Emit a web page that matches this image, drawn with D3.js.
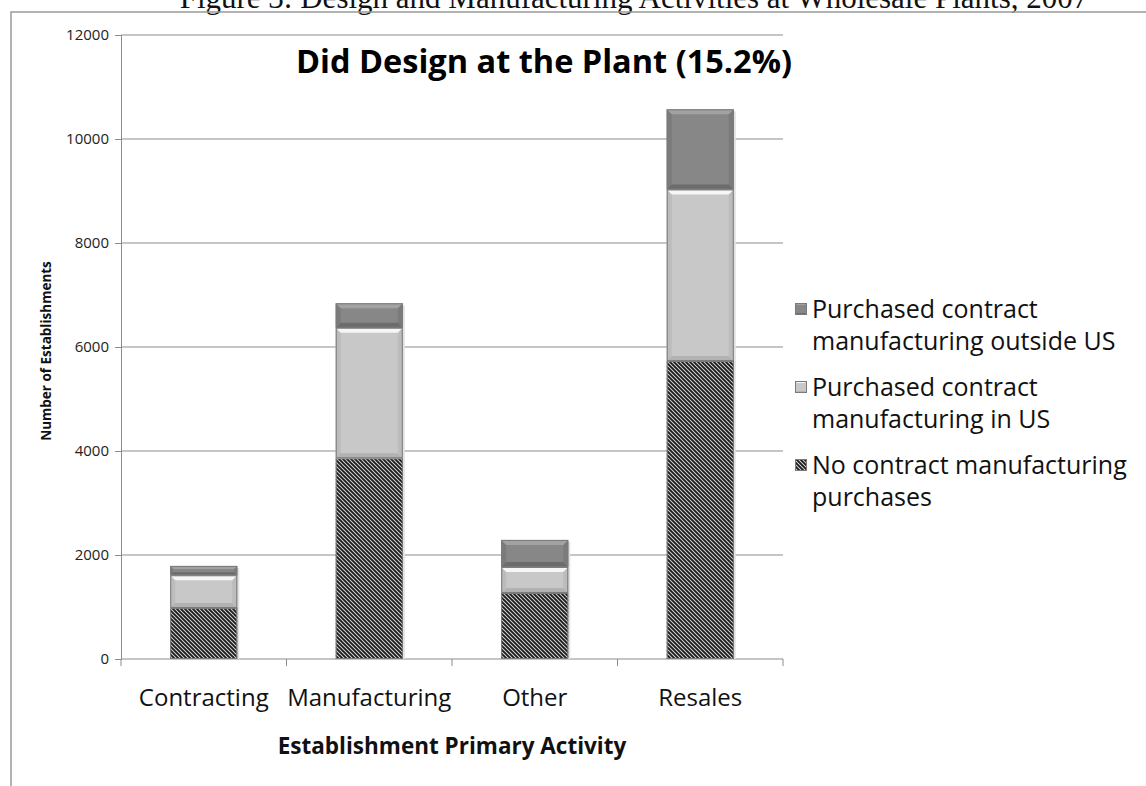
<!DOCTYPE html>
<html>
<head>
<meta charset="utf-8">
<script src="https://cdn.jsdelivr.net/npm/d3@7"></script>
<style>
  body { margin: 0; background: #fff; }
  svg { display: block; }
</style>
</head>
<body>
<svg id="chart"></svg>
<script>
var W = 1146, H = 786;

// data
var categories = ["Contracting", "Manufacturing", "Other", "Resales"];
var noContract = [980, 3860, 1270, 5730];
var inUS = [630, 2510, 500, 3300];
var outsideUS = [180, 470, 520, 1540];
var yTicks = [0, 2000, 4000, 6000, 8000, 10000, 12000];

var plot = { left: 121, right: 783, top: 35, bottom: 659 };

var svg = d3.select("#chart").attr("width", W).attr("height", H);
var defs = svg.append("defs");

// diagonal hatch like the original fill
var pat = defs.append("pattern")
  .attr("id", "hatch")
  .attr("patternUnits", "userSpaceOnUse")
  .attr("width", 4).attr("height", 4);
pat.append("rect").attr("width", 4).attr("height", 4).attr("fill", "#d2d2d2");
pat.append("path")
  .attr("d", "M-1,-1 L5,5 M-1,3 L1,5 M3,-1 L5,1")
  .attr("stroke", "#1a1a1a").attr("stroke-width", 1.8);

// caption above the frame (cut off at the top, as in the source)
svg.append("text")
  .attr("x", 634).attr("y", 8)
  .attr("text-anchor", "middle")
  .style("font-family", "'Liberation Serif', serif")
  .style("font-size", "31px")
  .attr("fill", "#111")
  .text("Figure 3: Design and Manufacturing Activities at Wholesale Plants, 2007");

// chart frame
svg.append("rect")
  .attr("x", 11).attr("y", 12)
  .attr("width", W + 20).attr("height", H + 20)
  .attr("fill", "none").attr("stroke", "#9a9a9a").attr("stroke-width", 1.5);

var x = d3.scaleBand().domain(categories)
  .range([plot.left, plot.right]).paddingInner(0.595).paddingOuter(0.2975);
var y = d3.scaleLinear().domain([0, 12000]).range([plot.bottom, plot.top]);

// gridlines
svg.append("g").selectAll("line").data(yTicks.filter(function(d) { return d > 0; }))
  .enter().append("line")
  .attr("x1", plot.left).attr("x2", plot.right)
  .attr("y1", function(d) { return y(d); }).attr("y2", function(d) { return y(d); })
  .attr("stroke", "#8c8c8c").attr("stroke-width", 1);

// y axis
var yAxis = svg.append("g")
  .attr("transform", "translate(" + plot.left + ",0)")
  .call(d3.axisLeft(y).tickValues(yTicks).tickSize(6).tickPadding(6).tickFormat(d3.format("d")));
yAxis.selectAll("path, line").attr("stroke", "#8c8c8c");
yAxis.selectAll("text")
  .style("font-family", "'Open Sans', sans-serif")
  .style("font-size", "15px").attr("fill", "#222");

// x axis
var xPos = d3.scaleLinear().domain([0, categories.length]).range([plot.left, plot.right]);
var xAxis = svg.append("g")
  .attr("transform", "translate(0," + plot.bottom + ")");
xAxis.append("line").attr("x1", plot.left).attr("x2", plot.right)
  .attr("stroke", "#8c8c8c");
xAxis.selectAll("line.tick").data(d3.range(categories.length + 1)).enter()
  .append("line").attr("class", "tick")
  .attr("x1", function(d) { return xPos(d); }).attr("x2", function(d) { return xPos(d); })
  .attr("y1", 0).attr("y2", 7).attr("stroke", "#8c8c8c");
xAxis.selectAll("text").data(categories).enter().append("text")
  .attr("x", function(d) { return x(d) + x.bandwidth() / 2; })
  .attr("y", 47)
  .attr("text-anchor", "middle")
  .style("font-family", "'Open Sans', sans-serif")
  .style("font-size", "24px").attr("fill", "#111")
  .text(function(d) { return d; });

// axis titles
svg.append("text")
  .attr("x", (plot.left + plot.right) / 2).attr("y", 754)
  .attr("text-anchor", "middle")
  .style("font-family", "'Open Sans', sans-serif")
  .style("font-size", "22.5px").style("font-weight", "bold").attr("fill", "#111")
  .text("Establishment Primary Activity");

svg.append("text")
  .attr("transform", "translate(51," + 351 + ") rotate(-90)")
  .attr("text-anchor", "middle")
  .style("font-family", "'Open Sans', sans-serif")
  .style("font-size", "13.5px").style("font-weight", "bold").attr("fill", "#111")
  .text("Number of Establishments");

// chart title
svg.append("text")
  .attr("x", 544).attr("y", 73)
  .attr("text-anchor", "middle")
  .style("font-family", "'Open Sans', sans-serif")
  .style("font-size", "32.5px").style("font-weight", "bold").attr("fill", "#000")
  .text("Did Design at the Plant (15.2%)");

// stacked bars
var rows = categories.map(function(c, i) {
  return { cat: c, a: noContract[i], b: inUS[i], c: outsideUS[i] };
});
var stack = d3.stack().keys(["a", "b", "c"])(rows);

var styles = {
  a: { fill: "url(#hatch)", top: null, bottom: null, side: null },
  b: { fill: "#c8c8c8", top: "#f6f6f6", bottom: "#b2b2b2", side: "#bcbcbc" },
  c: { fill: "#878787", top: "#a2a2a2", bottom: "#6c6c6c", side: "#7b7b7b" }
};

function bevel(g, x0, y0, w, h, s) {
  var b = Math.min(5, h / 3);
  if (s.side) {
    g.append("path")
      .attr("d", "M" + x0 + "," + y0 + " L" + (x0 + b) + "," + (y0 + b) + " V" + (y0 + h - b) +
        " L" + x0 + "," + (y0 + h) + " Z").attr("fill", s.side);
    g.append("path")
      .attr("d", "M" + (x0 + w) + "," + y0 + " L" + (x0 + w - b) + "," + (y0 + b) + " V" + (y0 + h - b) +
        " L" + (x0 + w) + "," + (y0 + h) + " Z").attr("fill", s.side);
  }
  if (s.top) {
    g.append("path")
      .attr("d", "M" + x0 + "," + y0 + " H" + (x0 + w) + " L" + (x0 + w - b) + "," + (y0 + b) +
        " H" + (x0 + b) + " Z").attr("fill", s.top);
  }
  if (s.bottom) {
    g.append("path")
      .attr("d", "M" + x0 + "," + (y0 + h) + " H" + (x0 + w) + " L" + (x0 + w - b) + "," + (y0 + h - b) +
        " H" + (x0 + b) + " Z").attr("fill", s.bottom);
  }
}

var barsG = svg.append("g");
// soft shadow to the right of each bar
barsG.selectAll("rect.shadow").data(rows).enter().append("rect")
  .attr("class", "shadow")
  .attr("x", function(d) { return x(d.cat) + 2; })
  .attr("y", function(d) { return y(d.a + d.b + d.c) + 2; })
  .attr("width", x.bandwidth())
  .attr("height", function(d) { return y(0) - y(d.a + d.b + d.c) - 2; })
  .attr("fill", "#e2e2e2");

stack.forEach(function(layer) {
  var s = styles[layer.key];
  layer.forEach(function(d) {
    var x0 = x(d.data.cat), w = x.bandwidth();
    var y0 = y(d[1]), h = y(d[0]) - y(d[1]);
    var g = barsG.append("g");
    g.append("rect").attr("x", x0).attr("y", y0).attr("width", w).attr("height", h)
      .attr("fill", s.fill);
    bevel(g, x0, y0, w, h, s);
    g.append("rect").attr("x", x0 + 0.5).attr("y", y0 + 0.5).attr("width", w - 1).attr("height", h - 1)
      .attr("fill", "none").attr("stroke", "#7a7a7a").attr("stroke-width", 1);
  });
});

// legend
var legendItems = [
  { key: "c", lines: ["Purchased contract", "manufacturing outside US"] },
  { key: "b", lines: ["Purchased contract", "manufacturing in US"] },
  { key: "a", lines: ["No contract manufacturing", "purchases"] }
];
var legend = svg.append("g").attr("transform", "translate(795,318)");
legendItems.forEach(function(it, i) {
  var g = legend.append("g").attr("transform", "translate(0," + (i * 78) + ")");
  var s = styles[it.key];
  g.append("rect").attr("x", 0).attr("y", -15).attr("width", 12).attr("height", 12)
    .attr("fill", s.fill);
  if (s.top) {
    g.append("path").attr("d", "M0,-15 H12 L10,-13 H2 Z").attr("fill", s.top);
    g.append("path").attr("d", "M0,-3 H12 L10,-5 H2 Z").attr("fill", s.bottom);
  }
  g.append("rect").attr("x", 0.5).attr("y", -14.5).attr("width", 11).attr("height", 11)
    .attr("fill", "none").attr("stroke", "#7a7a7a");
  var t = g.append("text")
    .style("font-family", "'Open Sans', sans-serif")
    .style("font-size", "25px").attr("fill", "#111");
  it.lines.forEach(function(l, j) {
    t.append("tspan").attr("x", 17).attr("y", j * 32).text(l);
  });
});
</script>
</body>
</html>
